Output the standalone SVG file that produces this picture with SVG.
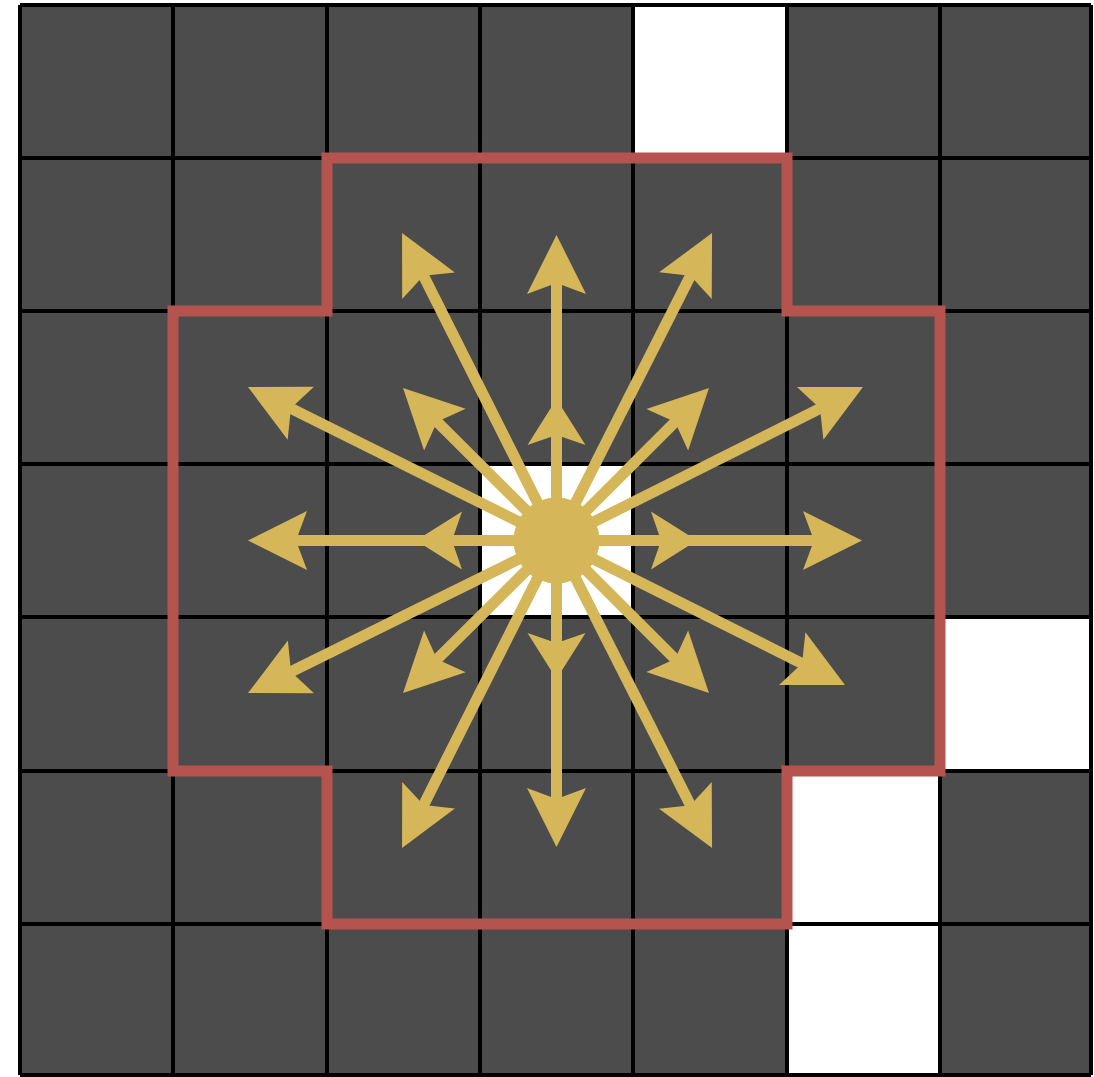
<svg xmlns="http://www.w3.org/2000/svg" width="1094" height="1077" viewBox="0 0 1094 1077">
  <style>
    .cell { fill: #4c4c4c; }
    .open { fill: #ffffff; }
    .gridline { stroke: #000000; stroke-width: 4; fill: none; }
    .zone { stroke: #b5534f; stroke-width: 11; fill: none; stroke-linejoin: miter; }
    .ray { stroke: #d5b658; stroke-width: 11; fill: none; }
    .head { fill: #d5b658; }
  </style>
  <defs>
    <marker id="arrowBig" markerUnits="userSpaceOnUse" orient="auto" refX="0" refY="0" markerWidth="10" markerHeight="10" overflow="visible">
      <path class="head" d="M40,0 L-19,-29.5 L-8,0 L-19,29.5 Z"/>
    </marker>
    <marker id="arrowMid" markerUnits="userSpaceOnUse" orient="auto" refX="0" refY="0" markerWidth="10" markerHeight="10" overflow="visible">
      <path class="head" d="M32,0 L-14,-29 L-4,0 L-14,29 Z"/>
    </marker>
  </defs>

  <g id="board">
    <rect class="cell" x="20" y="5" width="1071" height="1070"/>
    <rect id="cell-r0-c4" class="open" x="633" y="5" width="154" height="153"/>
    <rect id="cell-r3-c3" class="open" x="480" y="464" width="153" height="153"/>
    <rect id="cell-r4-c6" class="open" x="940" y="617" width="151" height="154"/>
    <rect id="cell-r5-c5" class="open" x="787" y="771" width="153" height="153"/>
    <rect id="cell-r6-c5" class="open" x="787" y="924" width="153" height="151"/>
    <g class="gridline">
      <path d="M20,5 V1075 M173,5 V1075 M327,5 V1075 M480,5 V1075 M633,5 V1075 M787,5 V1075 M940,5 V1075 M1091,5 V1075"/>
      <path d="M20,5 H1091 M20,158 H1091 M20,311 H1091 M20,464 H1091 M20,617 H1091 M20,771 H1091 M20,924 H1091 M20,1075 H1091"/>
    </g>
  </g>

  <g id="reach-zone">
    <path class="zone" d="M327,158 H787 V311 H940 V771 H787 V924 H327 V771 H173 V311 H327 Z"/>
  </g>

  <g id="connectors">
    <path class="ray" d="M556.5,540.5 L556.5,431 L556.5,275" marker-mid="url(#arrowMid)" marker-end="url(#arrowBig)"/>
    <path class="ray" d="M556.5,540.5 L556.5,647 L556.5,807" marker-mid="url(#arrowMid)" marker-end="url(#arrowBig)"/>
    <path class="ray" d="M556.5,540.5 L448,540.5 L288,540.5" marker-mid="url(#arrowMid)" marker-end="url(#arrowBig)"/>
    <path class="ray" d="M556.5,540.5 L665,540.5 L822,540.5" marker-mid="url(#arrowMid)" marker-end="url(#arrowBig)"/>

    <path class="ray" d="M556.5,540.5 L431.4,416.2" marker-end="url(#arrowBig)"/>
    <path class="ray" d="M556.5,540.5 L680.7,416.3" marker-end="url(#arrowBig)"/>
    <path class="ray" d="M556.5,540.5 L431.4,664.8" marker-end="url(#arrowBig)"/>
    <path class="ray" d="M556.5,540.5 L680.7,664.7" marker-end="url(#arrowBig)"/>

    <path class="ray" d="M556.5,540.5 L420,268.7" marker-end="url(#arrowBig)"/>
    <path class="ray" d="M556.5,540.5 L694,268.7" marker-end="url(#arrowBig)"/>
    <path class="ray" d="M556.5,540.5 L283.8,404.8" marker-end="url(#arrowBig)"/>
    <path class="ray" d="M556.5,540.5 L827.2,404.9" marker-end="url(#arrowBig)"/>
    <path class="ray" d="M556.5,540.5 L283.9,675.3" marker-end="url(#arrowBig)"/>
    <path class="ray" d="M556.5,540.5 L809.2,667.1" marker-end="url(#arrowBig)"/>
    <path class="ray" d="M556.5,540.5 L420,812.2" marker-end="url(#arrowBig)"/>
    <path class="ray" d="M556.5,540.5 L694,812.3" marker-end="url(#arrowBig)"/>
  </g>

  <g id="origin">
    <circle class="head" cx="556.5" cy="540.5" r="43"/>
  </g>
</svg>
